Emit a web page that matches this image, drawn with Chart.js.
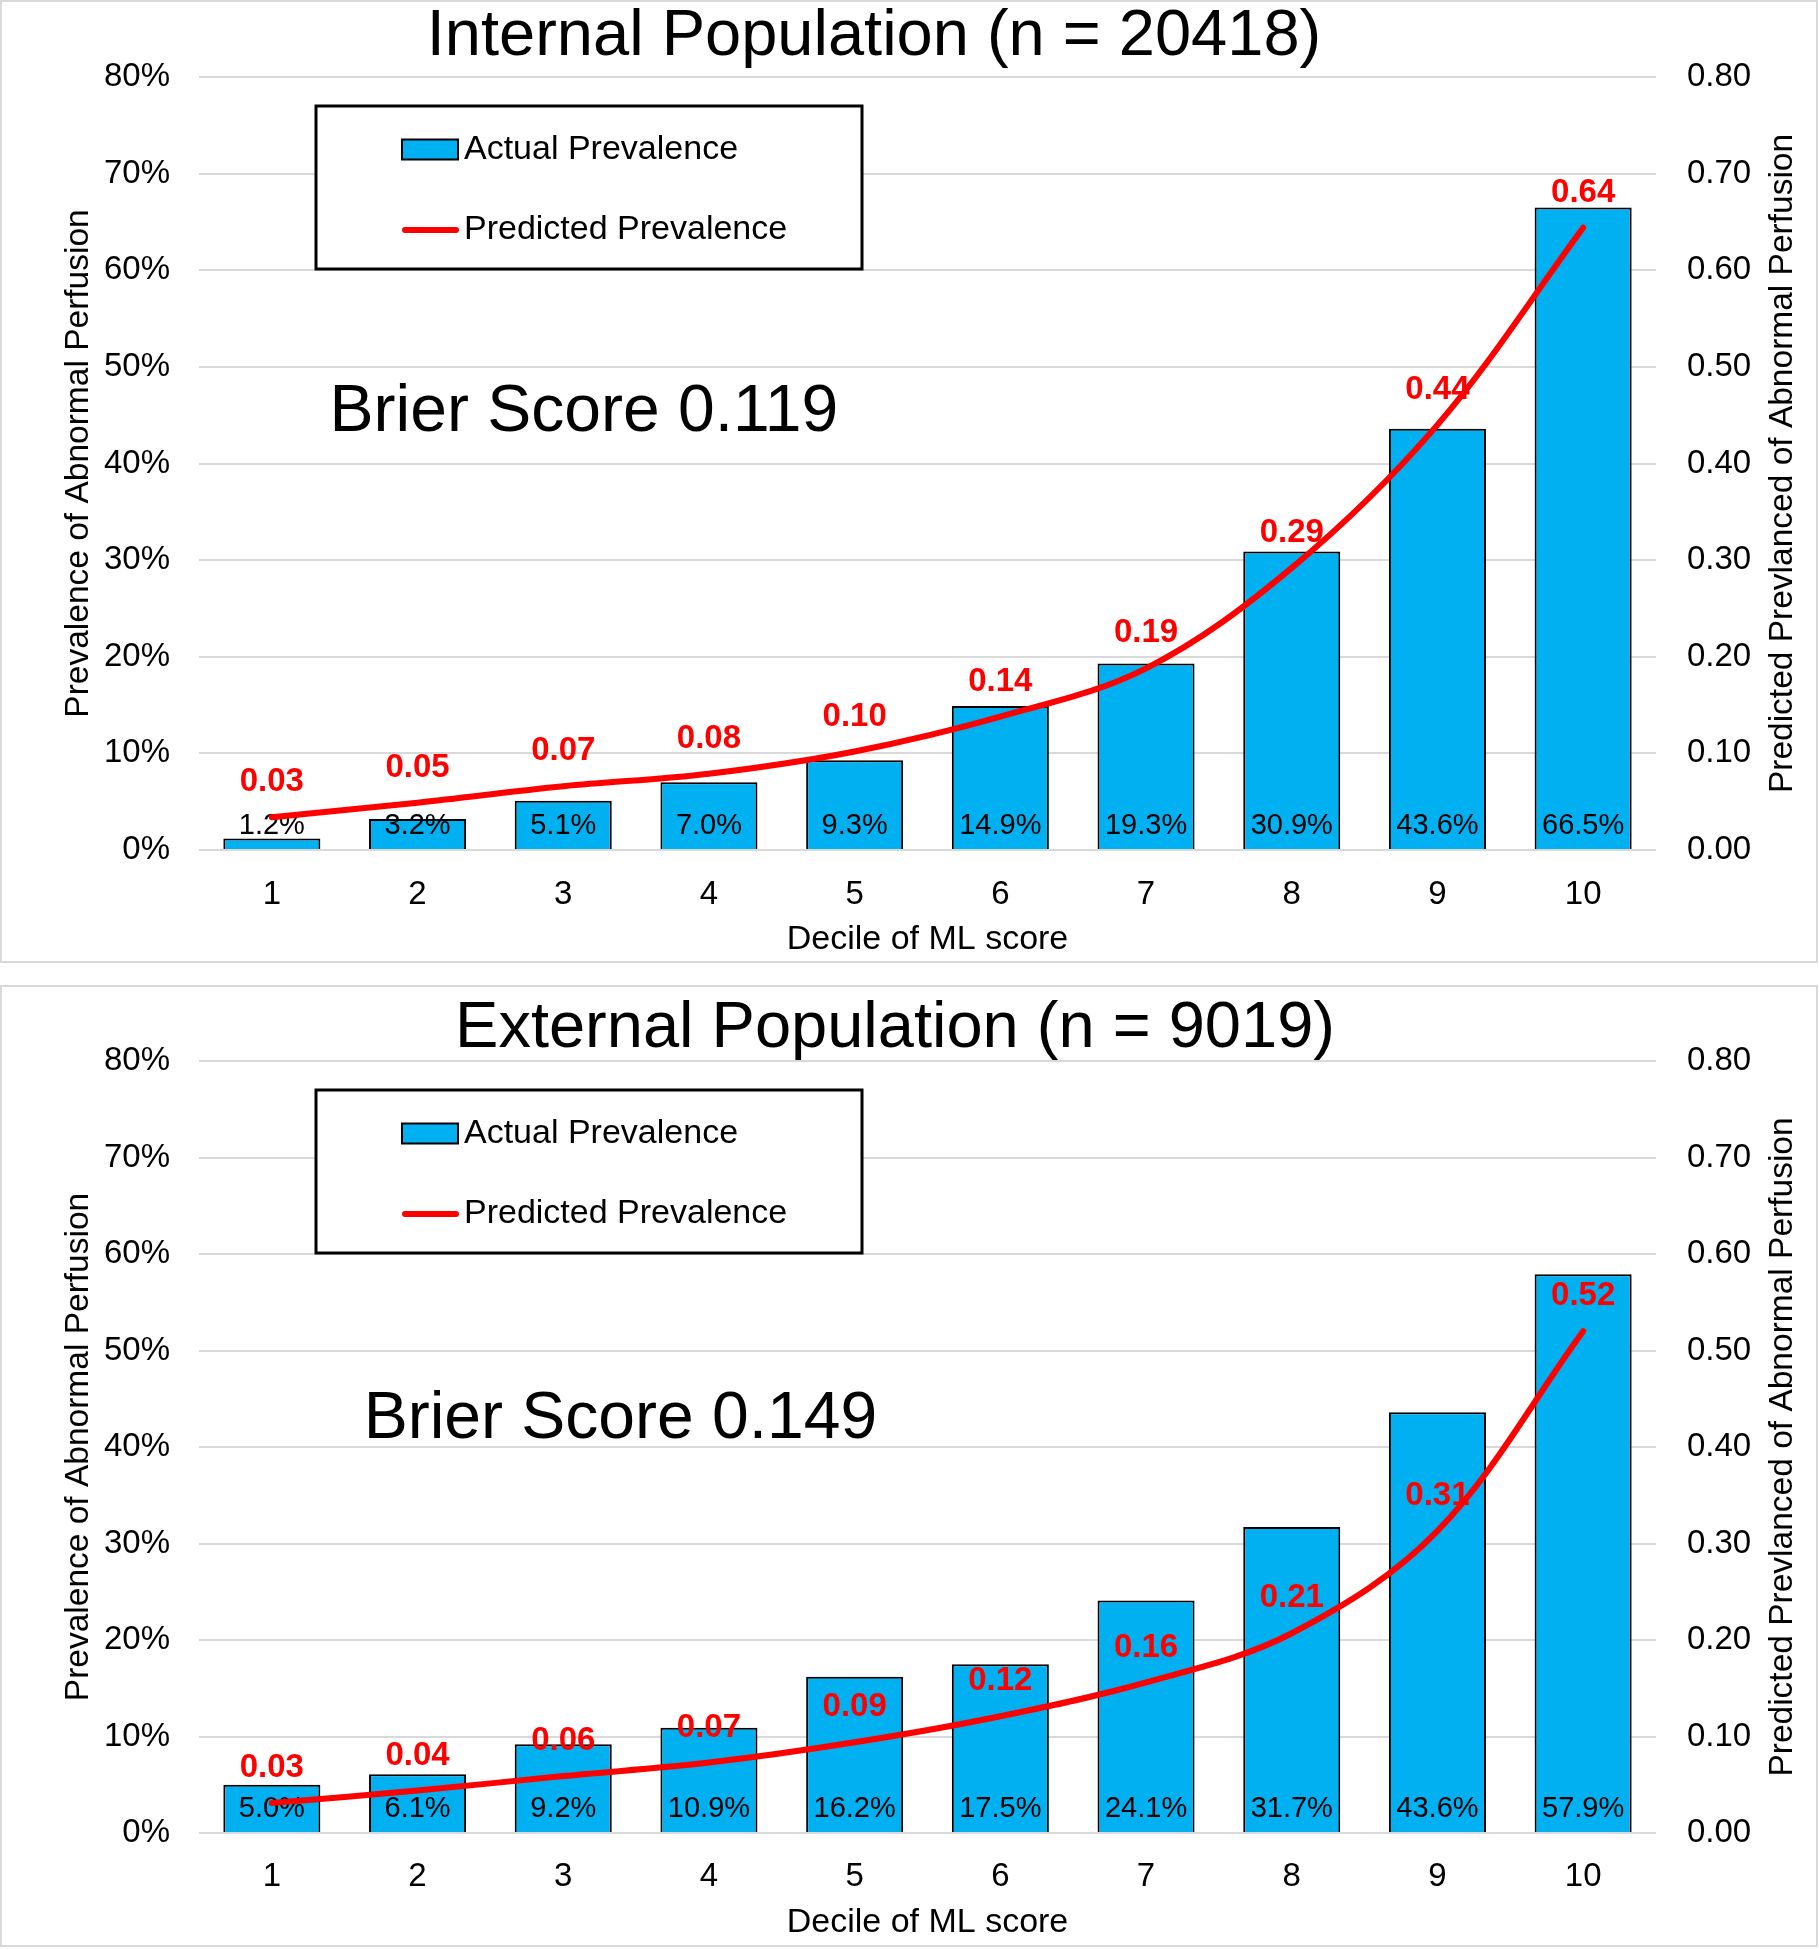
<!DOCTYPE html>
<html>
<head>
<meta charset="utf-8">
<script src="https://cdn.jsdelivr.net/npm/chart.js@4.4.0/dist/chart.umd.min.js"></script>
<style>
    body { margin: 0; background: #fff; }
    .panel { position: absolute; left: 0; width: 1814px; border: 2px solid #d9d9d9; background: #fff; }
</style>
</head>
<body>
<div class="panel" style="top:0; height:959px;"><canvas id="internal-chart"></canvas></div>
<div class="panel" style="top:985px; height:958px;"><canvas id="external-chart"></canvas></div>
<script>
const DECILES = ['1', '2', '3', '4', '5', '6', '7', '8', '9', '10'];

// actual prevalence (%) per decile
const INTERNAL_ACTUAL = [1.2, 3.2, 5.1, 7.0, 9.3, 14.9, 19.3, 30.9, 43.6, 66.5];
const EXTERNAL_ACTUAL = [5.0, 6.1, 9.2, 10.9, 16.2, 17.5, 24.1, 31.7, 43.6, 57.9];

// predicted prevalence (fraction) per decile
const INTERNAL_PREDICTED = [0.034, 0.049, 0.066, 0.079, 0.102, 0.138, 0.188, 0.292, 0.44, 0.644];
const EXTERNAL_PREDICTED = [0.031, 0.044, 0.059, 0.073, 0.094, 0.121, 0.156, 0.207, 0.313, 0.52];

const FONT = '"Liberation Sans", Arial, sans-serif';
Chart.defaults.font.family = FONT;
Chart.defaults.color = '#000';

const overlayPlugin = {
    id: 'overlay',
    afterDatasetDraw(chart, args) {
        // percentage labels sitting just above the bar base
        if (args.meta.type !== 'bar') return;
        const ctx = chart.ctx;
        const ds = chart.data.datasets[args.index];
        ctx.save();
        ctx.font = '29px ' + FONT;
        ctx.fillStyle = '#000';
        ctx.textAlign = 'center';
        ctx.textBaseline = 'middle';
        args.meta.data.forEach((bar, i) => {
            ctx.fillText(ds.data[i].toFixed(1) + '%', bar.x, bar.base - 23);
        });
        ctx.restore();
    },
    afterDatasetsDraw(chart) {
        const ctx = chart.ctx;
        chart.data.datasets.forEach((ds, i) => {
            const meta = chart.getDatasetMeta(i);
            if (meta.type !== 'line') return;
            ctx.save();
            ctx.font = 'bold 33px ' + FONT;
            ctx.fillStyle = '#ff0000';
            ctx.textAlign = 'center';
            ctx.textBaseline = 'middle';
            meta.data.forEach((pt, j) => {
                ctx.fillText(ds.data[j].toFixed(2), pt.x, pt.y - 35);
            });
            ctx.restore();
        });
    },
    afterDraw(chart, args, opts) {
        const ctx = chart.ctx;
        const area = chart.chartArea;
        ctx.save();

        // chart title
        ctx.fillStyle = '#000';
        ctx.font = '65px ' + FONT;
        ctx.textAlign = 'center';
        ctx.textBaseline = 'middle';
        ctx.fillText(opts.title.text, opts.title.x, opts.title.y);

        // legend box
        const lg = opts.legend;
        const bx = area.left + lg.left;
        const by = area.top + lg.top;
        ctx.fillStyle = '#fff';
        ctx.fillRect(bx, by, lg.width, lg.height);
        ctx.lineWidth = 3;
        ctx.strokeStyle = '#000';
        ctx.strokeRect(bx, by, lg.width, lg.height);
        ctx.font = '34px ' + FONT;
        ctx.textAlign = 'left';
        chart.data.datasets.forEach((ds, i) => {
            const cy = by + lg.rows[i];
            if (ds.type === 'bar') {
                ctx.fillStyle = ds.backgroundColor;
                ctx.fillRect(bx + 86, cy - 10, 56, 20);
                ctx.lineWidth = 2;
                ctx.strokeStyle = '#000';
                ctx.strokeRect(bx + 86, cy - 10, 56, 20);
            } else {
                ctx.beginPath();
                ctx.moveTo(bx + 89, cy);
                ctx.lineTo(bx + 140, cy);
                ctx.lineWidth = 6;
                ctx.lineCap = 'round';
                ctx.strokeStyle = ds.borderColor;
                ctx.stroke();
            }
            ctx.fillStyle = '#000';
            ctx.fillText(ds.label, bx + 148, cy);
        });

        // Brier score annotation
        const x = chart.scales.x.getPixelForValue(opts.brier.x);
        const y = chart.scales.y.getPixelForValue(opts.brier.y);
        ctx.font = '66px ' + FONT;
        ctx.fillText(opts.brier.text, x, y);

        // right axis title, reading bottom to top
        const y2 = chart.scales.y2;
        ctx.translate(y2.right - 33, (area.top + area.bottom) / 2);
        ctx.rotate(-Math.PI / 2);
        ctx.font = '33.5px ' + FONT;
        ctx.textAlign = 'center';
        ctx.fillText('Predicted Prevlanced of Abnormal Perfusion', 0, 0);
        ctx.restore();
    }
};

function makeChart(canvasId, title, actual, predicted, brier, layout) {
    const ctx = document.getElementById(canvasId).getContext('2d');
    return new Chart(ctx, {
        type: 'bar',
        data: {
            labels: DECILES,
            datasets: [{
                type: 'bar',
                label: 'Actual Prevalence',
                data: actual,
                backgroundColor: '#00b0f0',
                borderColor: '#000',
                borderWidth: 2,
                barPercentage: 0.666,
                categoryPercentage: 1,
                yAxisID: 'y',
                order: 1
            }, {
                type: 'line',
                label: 'Predicted Prevalence',
                data: predicted,
                borderColor: '#ff0000',
                borderWidth: 6,
                borderCapStyle: 'round',
                tension: 0.35,
                pointRadius: 0,
                yAxisID: 'y2',
                order: 0
            }]
        },
        options: {
            responsive: true,
            maintainAspectRatio: false,
            animation: false,
            layout: { padding: { top: layout.top, left: 0, right: 0, bottom: 0 } },
            plugins: {
                legend: { display: false },
                tooltip: { enabled: false },
                title: { display: false },
                overlay: {
                    title: title,
                    brier: brier,
                    legend: { left: 117, top: 29, width: 546, height: 163, rows: [43.5, 124] }
                }
            },
            scales: {
                x: {
                    grid: { display: false, drawTicks: false },
                    border: { display: false },
                    ticks: { font: { size: 33 }, padding: layout.tickPad },
                    title: {
                        display: true,
                        text: 'Decile of ML score',
                        font: { size: 34 },
                        padding: { top: 0, bottom: layout.xTitlePad }
                    },
                    afterFit: (scale) => { scale.height = layout.xHeight; }
                },
                y: {
                    position: 'left',
                    min: 0,
                    max: 80,
                    grid: { color: '#d9d9d9', lineWidth: 2, drawTicks: false },
                    border: { display: false },
                    ticks: {
                        stepSize: 10,
                        padding: 29,
                        font: { size: 33 },
                        callback: (v) => v + '%'
                    },
                    title: {
                        display: true,
                        text: 'Prevalence of Abnormal Perfusion',
                        font: { size: 33.5 },
                        padding: { top: 57, bottom: 0 }
                    },
                    afterFit: (scale) => { scale.width = 197; }
                },
                y2: {
                    position: 'right',
                    min: 0,
                    max: 0.8,
                    grid: { display: false, drawTicks: false },
                    border: { display: false },
                    ticks: {
                        stepSize: 0.1,
                        padding: 31,
                        font: { size: 33 },
                        callback: (v) => v.toFixed(2)
                    },
                    afterFit: (scale) => { scale.width = 160; }
                }
            }
        },
        plugins: [overlayPlugin]
    });
}

makeChart('internal-chart',
    { text: 'Internal Population (n = 20418)', x: 872, y: 35 },
    INTERNAL_ACTUAL, INTERNAL_PREDICTED,
    { text: 'Brier Score 0.119', x: 0.396, y: 45.2 },
    { top: 75, xHeight: 111, tickPad: 25, xTitlePad: 1 });

makeChart('external-chart',
    { text: 'External Population (n = 9019)', x: 893, y: 42 },
    EXTERNAL_ACTUAL, EXTERNAL_PREDICTED,
    { text: 'Brier Score 0.149', x: 0.63, y: 42.8 },
    { top: 74, xHeight: 112, tickPad: 24, xTitlePad: 2 });
</script>
</body>
</html>
